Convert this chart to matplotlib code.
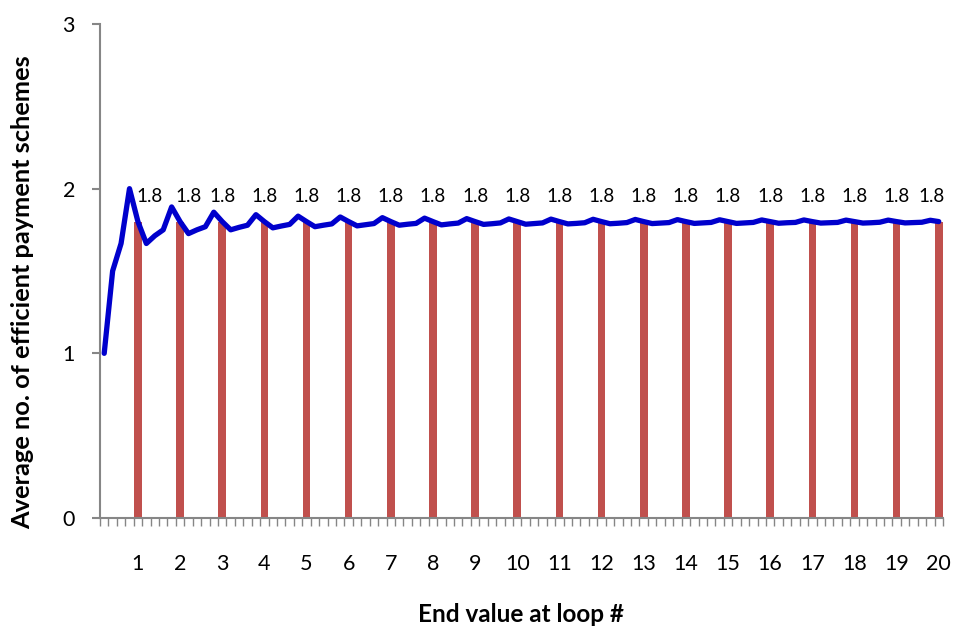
import matplotlib.pyplot as plt
import numpy as np

plt.rcParams['font.family'] = ['Lato', 'DejaVu Sans']

# loop numbers (one bar at the end of each loop)
loops = [1, 2, 3, 4, 5, 6, 7, 8, 9, 10, 11, 12, 13, 14, 15, 16, 17, 18, 19, 20]
end_values = [1.8] * 20
end_labels = ['1.8'] * 20

# running average, 5 steps per loop
avg_values = [
    1.000, 1.500, 1.667, 2.000, 1.800,
    1.667, 1.714, 1.750, 1.889, 1.800,
    1.727, 1.750, 1.769, 1.857, 1.800,
    1.750, 1.765, 1.778, 1.842, 1.800,
    1.762, 1.773, 1.783, 1.833, 1.800,
    1.769, 1.778, 1.786, 1.828, 1.800,
    1.774, 1.781, 1.788, 1.824, 1.800,
    1.778, 1.784, 1.789, 1.821, 1.800,
    1.780, 1.786, 1.791, 1.818, 1.800,
    1.783, 1.787, 1.792, 1.816, 1.800,
    1.784, 1.788, 1.792, 1.815, 1.800,
    1.786, 1.789, 1.793, 1.814, 1.800,
    1.787, 1.790, 1.794, 1.813, 1.800,
    1.788, 1.791, 1.794, 1.812, 1.800,
    1.789, 1.792, 1.795, 1.811, 1.800,
    1.789, 1.792, 1.795, 1.810, 1.800,
    1.790, 1.793, 1.795, 1.810, 1.800,
    1.791, 1.793, 1.795, 1.809, 1.800,
    1.791, 1.793, 1.796, 1.809, 1.800,
    1.792, 1.794, 1.796, 1.808, 1.800,
]

steps_per_loop = 5
n = len(avg_values)
xs = np.arange(n)
bar_x = np.array([l * steps_per_loop - 1 for l in loops])

# data labels get nudged sideways where excel moved them off the line / edge
label_shift = {0: 1.4, 1: 1.0, 19: -0.8}

fig = plt.figure(figsize=(9.55, 6.26), dpi=100)
ax = fig.add_axes([0.1047, 0.1725, 0.8827, 0.7892])

ax.bar(bar_x, end_values, width=0.9, color='#C0504D', zorder=2)
ax.plot(xs, avg_values, color='#0000CC', lw=3.8, solid_joinstyle='round',
        solid_capstyle='round', zorder=3)

for i, (x, v, s) in enumerate(zip(bar_x, end_values, end_labels)):
    ax.text(x + label_shift.get(i, 0), v + 0.155, s, ha='center', va='center',
            fontsize=13.5)

ax.set_xlim(-0.5, n - 0.5)
ax.set_ylim(0, 3)
ax.set_yticks([0, 1, 2, 3])
ax.set_xticks(bar_x)
ax.set_xticklabels([str(l) for l in loops])
ax.set_xticks(np.arange(-0.5, n, 1), minor=True)

for side in ['top', 'right']:
    ax.spines[side].set_visible(False)
for side in ['left', 'bottom']:
    ax.spines[side].set_color('#868686')
    ax.spines[side].set_linewidth(1.5)

ax.tick_params(axis='x', which='major', length=0, pad=26, labelsize=15.5)
ax.tick_params(axis='x', which='minor', length=6, width=1, color='#868686')
ax.tick_params(axis='y', length=6, width=1.5, color='#868686', pad=12, labelsize=15.5)

ax.set_xlabel('End value at loop #', fontsize=17.5, fontweight='bold', labelpad=21)
ax.set_ylabel('Average no. of efficient payment schemes', fontsize=18.3,
              fontweight='bold')
ax.yaxis.set_label_coords(-0.078, 0.4565)

fig.savefig('out.png', dpi=100)
